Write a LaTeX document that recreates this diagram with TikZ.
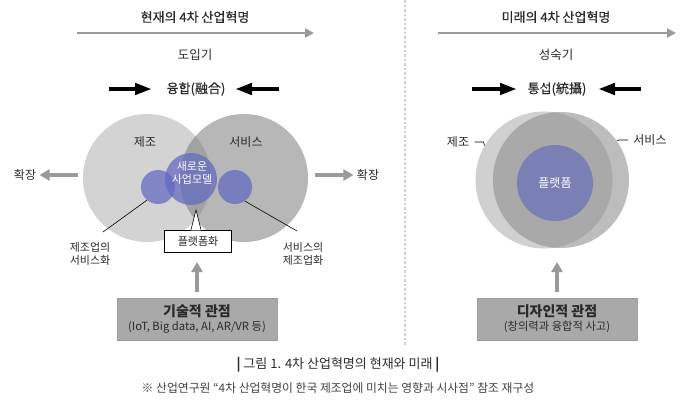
\documentclass[tikz,border=0pt]{standalone}
\usepackage{fontspec}
\setmainfont{Noto Sans CJK KR}
\newfontfamily\headfont{Noto Sans CJK KR}[FakeBold=0.5]
\usetikzlibrary{arrows.meta}

\definecolor{txt}{HTML}{2A2A2A}
\definecolor{arrgray}{HTML}{9A9A9A}
\definecolor{mfggray}{HTML}{D3D3D3}
\definecolor{svcgray}{HTML}{B7B7B7}
\definecolor{lensgray}{HTML}{A2A2A2}
\definecolor{fmfg}{HTML}{D0D0D0}
\definecolor{fsvc}{HTML}{BDBDBD}
\definecolor{flens}{HTML}{A9A9A9}
\definecolor{bizblue}{RGB}{98,104,192}
\definecolor{platblue}{RGB}{122,128,180}
\definecolor{boxgray}{HTML}{A9A9A9}
\definecolor{sepgray}{HTML}{CFCFCF}

\begin{document}
\begin{tikzpicture}[x=1pt, y=-1pt, text=txt, font=\fontsize{12}{14}\selectfont,
  timeline/.style={draw=arrgray, line width=2.6pt, -{Triangle[length=9pt,width=9pt]}},
  pusharr/.style={draw=black, line width=4.5pt, -{Triangle[length=17pt,width=11pt]}},
  expandarr/.style={draw=arrgray, line width=3.2pt, -{Triangle[length=10pt,width=11pt]}},
  liftarr/.style={draw=arrgray, line width=4pt, -{Triangle[length=10pt,width=11pt]}},
  disk/.style={circle, inner sep=0pt},
  heading/.style={font=\headfont\fontsize{13}{15}\selectfont},
  viewbox/.style={fill=boxgray, draw=black!38, line width=0.6pt, minimum width=160pt,
    minimum height=42pt, align=center, inner sep=0pt},
  small/.style={font=\fontsize{11}{13.5}\selectfont}]
\useasboundingbox (0,0) rectangle (693,407);

% separator between present and future
\coordinate (septop) at (405,0);
\coordinate (sepbot) at (405,345);
\draw[sepgray, line width=1.8pt, dash pattern=on 2.5pt off 2pt] (septop) -- (sepbot);

% ---- present (left half) ----
\node[heading] (nowtitle) at (195,17) {현재의 4차 산업혁명};
\coordinate (nowA) at (77,33);
\coordinate (nowB) at (314,33);
\draw[timeline] (nowA) -- (nowB);
\node[font=\fontsize{12.5}{15}\selectfont] (intro) at (195,55) {도입기};
\node[heading] (fusion) at (196,89) {융합(融合)};
\coordinate (fuseL) at (109,89);
\coordinate (fuseLend) at (152,89);
\coordinate (fuseR) at (279,89);
\coordinate (fuseRend) at (235,89);
\draw[pusharr] (fuseL) -- (fuseLend);
\draw[pusharr] (fuseR) -- (fuseRend);

% manufacturing / service circles
\node[disk, fill=mfggray, minimum size=128pt] (mfg) at (147,178) {};
\node[disk, fill=svcgray, minimum size=128pt] (svc) at (244,178) {};
\begin{scope}
  \clip (147,178) circle (64pt);
  \fill[lensgray] (244,178) circle (64pt);
\end{scope}
\node (mfglbl) at (145,142) {제조};
\node (svclbl) at (246,142) {서비스};

% business model circles
\node[disk, fill=bizblue, fill opacity=0.72, minimum size=34pt] (servz) at (158,187) {};
\node[disk, fill=bizblue, fill opacity=0.72, minimum size=34pt] (mfgz) at (235,187) {};
\node[disk, fill=bizblue, fill opacity=0.72, minimum size=52pt] (newbiz) at (191,179) {};
\node[small, text=white, align=center] (newbizlbl) at (192,173) {새로운\\[-1pt]사업모델};

% expansion arrows
\node (expL) at (25,175) {확장};
\node (expR) at (368,175) {확장};
\coordinate (expLa) at (78,175);
\coordinate (expRa) at (315,175);
\draw[expandarr] (expLa) -- (expL.east);
\draw[expandarr] (expRa) -- (expR.west);

% servitization labels
\node[small, align=center] (servlbl) at (90,254) {제조업의\\서비스화};
\node[small, align=center] (mfglbl2) at (303,254) {서비스의\\제조업화};
\coordinate (servend) at (103,232);
\coordinate (mfgend) at (297,231);
\draw[line width=0.6pt] (servz.230) -- (servend);
\draw[line width=0.6pt] (mfgz.305) -- (mfgend);

% platformization callout
\node[small, draw=black, fill=white, line width=0.6pt, minimum width=67pt,
  minimum height=22pt, inner sep=0pt] (platz) at (198,241) {플랫폼화};
\coordinate (platztip) at (196,210);
\fill[white] ([xshift=-7pt,yshift=-0.6pt]platz.north) -- (platztip) -- ([xshift=3pt,yshift=-0.6pt]platz.north) -- cycle;
\draw[line width=0.6pt] ([xshift=-7pt]platz.north) -- (platztip) -- ([xshift=3pt]platz.north);

% technology view
\node[viewbox] (tech) at (197,319)
  {{\bfseries\fontsize{14}{16}\selectfont 기술적 관점}\\[0pt]{\fontsize{11.3}{13}\selectfont (IoT, Big data, AI, AR/VR 등)}};
\coordinate (techtip) at (197,262);
\draw[liftarr] ([yshift=6pt]tech.north) -- (techtip);

% ---- future (right half) ----
\node[heading] (futtitle) at (556,17) {미래의 4차 산업혁명};
\coordinate (futA) at (438,33);
\coordinate (futB) at (676,33);
\draw[timeline] (futA) -- (futB);
\node[font=\fontsize{12.5}{15}\selectfont] (mature) at (556,55) {성숙기};
\node[heading] (consil) at (557,89) {통섭(統攝)};
\coordinate (consL) at (472,89);
\coordinate (consLend) at (517,89);
\coordinate (consR) at (641,89);
\coordinate (consRend) at (598,89);
\draw[pusharr] (consL) -- (consLend);
\draw[pusharr] (consR) -- (consRend);

% merged circles
\node[disk, fill=fmfg, minimum size=137pt] (fmfgc) at (544,180) {};
\node[disk, fill=fsvc, minimum size=136pt] (fsvcc) at (561,180) {};
\begin{scope}
  \clip (544,180) circle (68.5pt);
  \fill[flens] (561,180) circle (68pt);
\end{scope}
\node[disk, fill=platblue, minimum size=76pt, text=white] (plat) at (555,183) {플랫폼};

\node (fmfglbl) at (458,142) {제조};
\node (fsvclbl) at (650,140) {서비스};
\draw[line width=0.6pt] ([xshift=2pt]fmfglbl.east) -- ++(9pt,0) -- (fmfgc.150);
\draw[line width=0.6pt] ([xshift=-2pt]fsvclbl.west) -- ++(-9pt,0) -- (fsvcc.35);

% design view
\node[viewbox] (design) at (557,319)
  {{\bfseries\fontsize{14}{16}\selectfont 디자인적 관점}\\[0pt]{\fontsize{11.3}{13}\selectfont (창의력과 융합적 사고)}};
\coordinate (designtip) at (557,262);
\draw[liftarr] ([yshift=6pt]design.north) -- (designtip);

% caption
\node[font=\fontsize{13}{15}\selectfont] (caption) at (338,365)
  {{\bfseries |} 그림 1. 4차 산업혁명의 현재와 미래 {\bfseries |}};
\node[font=\fontsize{11.8}{14}\selectfont, text=black!75] (source) at (338,388)
  {※ 산업연구원 “4차 산업혁명이 한국 제조업에 미치는 영향과 시사점” 참조 재구성};
\end{tikzpicture}
\end{document}
